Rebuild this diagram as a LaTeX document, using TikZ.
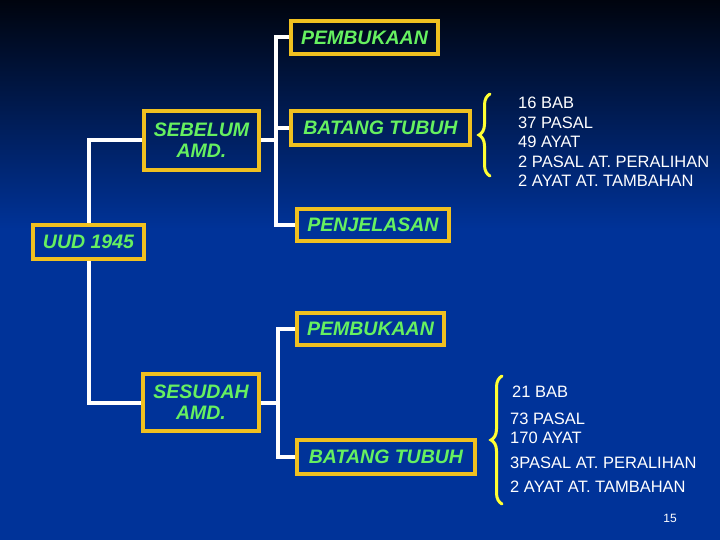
\documentclass[tikz,border=0pt]{standalone}
\usepackage{fontspec}
\setmainfont{Liberation Sans}
\usetikzlibrary{decorations.pathreplacing}
\definecolor{bgblue}{HTML}{003399}
\definecolor{bgtop}{HTML}{00040E}
\definecolor{gold}{HTML}{F0C020}
\definecolor{lgreen}{HTML}{66F060}
\definecolor{byellow}{HTML}{FFFF33}
\tikzset{
  boxnode/.style={draw=gold, line width=4pt, text=lgreen, inner sep=0pt,
    font=\fontsize{19.5}{21}\selectfont\bfseries\itshape, align=center},
  conn/.style={draw=white, line width=4pt},
  bracestyle/.style={draw=byellow, line width=3pt, line cap=round,
    decorate, decoration={brace, amplitude=11pt}},
  listtext/.style={text=white, inner sep=0pt, anchor=base west,
    font=\fontsize{16.5}{19}\selectfont}
}
\begin{document}
\begin{tikzpicture}[x=1pt,y=-1pt]
\useasboundingbox (0,0) rectangle (720,540);
% background
\fill[bgblue] (0,0) rectangle (720,540);
\shade[top color=bgtop, bottom color=bgblue] (0,0) rectangle (720,230);
% boxes
\node[boxnode, minimum width=147pt, minimum height=33pt] (pem1) at (364.5,37.5) {PEMBUKAAN};
\node[boxnode, minimum width=179pt, minimum height=34pt] (bt1) at (380.5,128) {BATANG TUBUH};
\node[boxnode, minimum width=115pt, minimum height=59pt] (seb) at (201.5,140.5) {SEBELUM\\AMD.};
\node[boxnode, minimum width=152pt, minimum height=32pt] (pen) at (373,225) {PENJELASAN};
\node[boxnode, minimum width=111pt, minimum height=34pt] (uud) at (88.5,242) {UUD 1945};
\node[boxnode, minimum width=147pt, minimum height=32pt] (pem2) at (370.5,329) {PEMBUKAAN};
\node[boxnode, minimum width=116pt, minimum height=57pt] (ses) at (201,402.5) {SESUDAH\\AMD.};
\node[boxnode, minimum width=178pt, minimum height=34pt] (bt2) at (386,457) {BATANG TUBUH};
% connectors
\draw[conn] (uud.north) |- (seb.west);
\draw[conn] (uud.south) |- (ses.west);
\draw[conn] (seb.east) -- ++(15,0) coordinate (j1);
\draw[conn] (j1) |- (pem1.west);
\draw[conn] (j1) |- (bt1.west);
\draw[conn] (j1) |- (pen.west);
\draw[conn] (ses.east) -- ++(17,0) coordinate (j2);
\draw[conn] (j2) |- (pem2.west);
\draw[conn] (j2) |- (bt2.west);
% braces
\coordinate (b1s) at (490,176);
\coordinate (b1e) at (490,94);
\draw[bracestyle] (b1s) -- (b1e);
\coordinate (b2s) at (502,504);
\coordinate (b2e) at (502,376);
\draw[bracestyle] (b2s) -- (b2e);
% upper list
\node[listtext] (u1) at (518,108.7) {16 BAB};
\node[listtext] (u2) at (518,128.3) {37 PASAL};
\node[listtext] (u3) at (518,147.9) {49 AYAT};
\node[listtext] (u4) at (518,167.2) {2 PASAL AT. PERALIHAN};
\node[listtext] (u5) at (518,186.4) {2 AYAT AT. TAMBAHAN};
% lower list
\node[listtext] (w1) at (512,397.7) {21 BAB};
\node[listtext] (w2) at (510,424.7) {73 PASAL};
\node[listtext] (w3) at (510,443.7) {170 AYAT};
\node[listtext] (w4) at (510,468.7) {3PASAL AT. PERALIHAN};
\node[listtext] (w5) at (510,492.7) {2 AYAT AT. TAMBAHAN};
% page number
\node[text=white, inner sep=0pt, font=\fontsize{12}{14}\selectfont] (pg) at (670,518) {15};
\end{tikzpicture}
\end{document}
